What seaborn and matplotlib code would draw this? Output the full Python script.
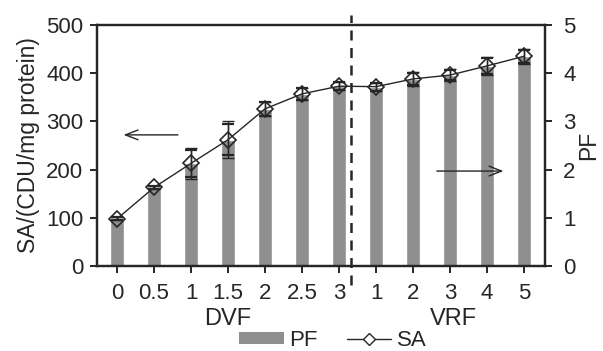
import matplotlib
matplotlib.use("Agg")
import matplotlib.pyplot as plt
import seaborn as sns
import pandas as pd
import numpy as np
from matplotlib.lines import Line2D
from matplotlib.patches import Patch

sns.set_style("ticks")
plt.rcParams['font.family'] = ['Liberation Sans', 'DejaVu Sans']

tick_labels = ["0", "0.5", "1", "1.5", "2", "2.5", "3", "1", "2", "3", "4", "5"]
pf_values = [0.98, 1.63, 2.13, 2.62, 3.26, 3.57, 3.73, 3.72, 3.88, 3.96, 4.15, 4.35]
pf_err = [0.03, 0.04, 0.28, 0.32, 0.14, 0.12, 0.08, 0.08, 0.12, 0.10, 0.16, 0.13]
sa_values = [98, 163, 213, 262, 326, 357, 373, 372, 388, 396, 415, 435]
sa_err = [3, 4, 32, 38, 15, 13, 8, 8, 14, 12, 18, 15]

df = pd.DataFrame({"idx": np.arange(len(tick_labels)), "PF": pf_values, "SA": sa_values})

fig = plt.figure(figsize=(6.03, 3.51), dpi=100)
ax = fig.add_axes([0.161, 0.242, 0.743, 0.687])
ax2 = ax.twinx()

ink = "#262626"
bar_color = "#8f8f8f"
sns.barplot(data=df, x="idx", y="PF", ax=ax, color=bar_color, width=0.4,
            saturation=1, errorbar=None, native_scale=True)
ax.errorbar(df["idx"], pf_values, yerr=pf_err, fmt="none", ecolor=ink,
            elinewidth=1.0, capsize=4, capthick=1.6, zorder=3)

sns.lineplot(data=df, x="idx", y="SA", ax=ax2, color=ink, lw=1.0,
             marker="D", markersize=8, markerfacecolor="none",
             markeredgecolor=ink, markeredgewidth=1.2)
ax2.errorbar(df["idx"], sa_values, yerr=sa_err, fmt="none", ecolor=ink,
             elinewidth=1.0, capsize=4, capthick=1.0)

ax.set_xlim(-0.54, 11.57)
ax.set_ylim(0, 5)
ax2.set_ylim(0, 500)

# swap sides: PF axis on right, SA axis on left
ax.yaxis.tick_right()
ax.yaxis.set_label_position("right")
ax2.yaxis.tick_left()
ax2.yaxis.set_label_position("left")

ax.set_yticks([0, 1, 2, 3, 4, 5])
ax2.set_yticks([0, 100, 200, 300, 400, 500])
ax.set_xticks(range(len(tick_labels)))
ax.set_xticklabels(tick_labels)

for a in (ax, ax2):
    for s in a.spines.values():
        s.set_visible(True)
        s.set_linewidth(1.6)
        s.set_color(ink)
    a.tick_params(axis="both", labelsize=16, width=1.4, length=5, color=ink,
                  labelcolor=ink, direction="out")
ax.tick_params(axis="x", pad=7)
ax.tick_params(axis="y", pad=8)
ax2.tick_params(axis="y", pad=5)

ax.set_xlabel("")
ax2.set_xlabel("")
ax.set_ylabel("PF", fontsize=16.5, color=ink, labelpad=1)
ax2.set_ylabel("SA/(CDU/mg protein)", fontsize=16.5, color=ink, labelpad=4)

# group labels
ax.text(3, -1.1, "DVF", ha="center", va="center", fontsize=17, color=ink,
        transform=ax.transData)
ax.text(9.1, -1.1, "VRF", ha="center", va="center", fontsize=17, color=ink,
        transform=ax.transData)

# dashed separator
ax.plot([6.32, 6.32], [-0.4, 5.2], ls=(0, (4, 3)), color=ink, lw=1.8,
        clip_on=False, zorder=5)

# arrows
ax2.annotate("", xy=(0.1, 272), xytext=(1.72, 272),
             arrowprops=dict(arrowstyle="->,head_length=0.9,head_width=0.35",
                             color=ink, lw=1.0))
ax2.annotate("", xy=(10.52, 197), xytext=(8.57, 197),
             arrowprops=dict(arrowstyle="->,head_length=0.9,head_width=0.35",
                             color=ink, lw=1.0))

handles = [Patch(facecolor=bar_color, edgecolor="none", label="PF"),
           Line2D([], [], color=ink, lw=1.0, marker="D", markersize=6,
                  markerfacecolor="white", markeredgecolor=ink, label="SA")]
leg = fig.legend(handles=handles, loc="center", bbox_to_anchor=(0.552, 0.03), ncol=2,
                 frameon=False, fontsize=16, handlelength=2.0, columnspacing=1.3,
                 handletextpad=0.25, borderpad=0, handleheight=0.5)
for t in leg.get_texts():
    t.set_color(ink)

fig.savefig("out.png", dpi=100)
